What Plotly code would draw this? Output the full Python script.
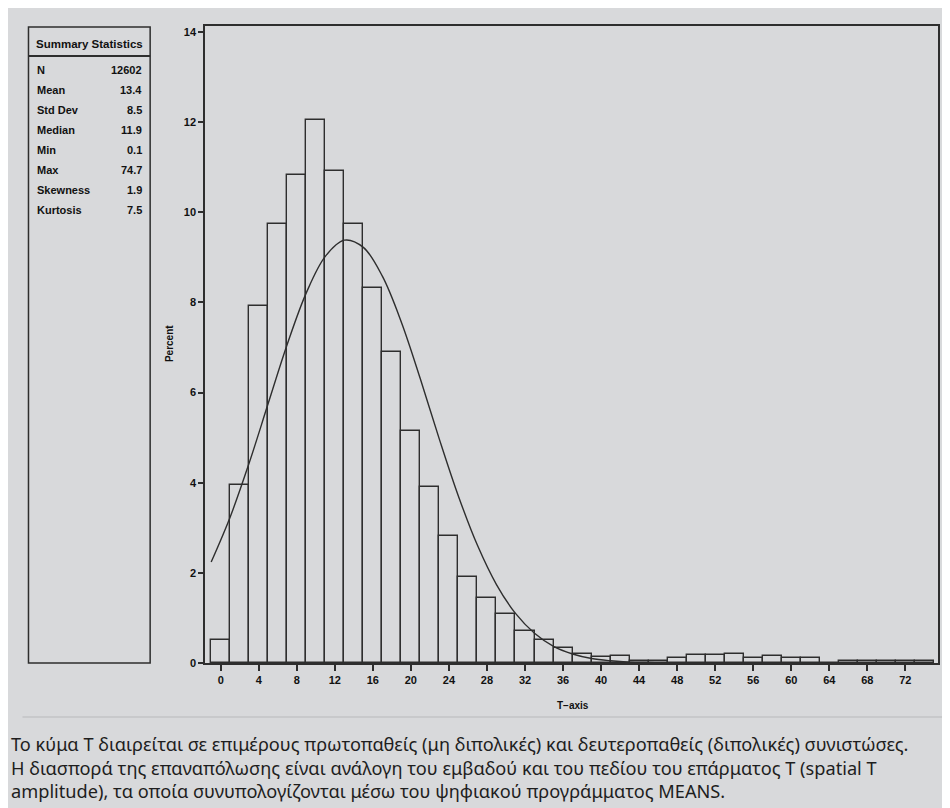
import plotly.graph_objects as go

# ---------------- data ----------------
bin_centers = [0, 2, 4, 6, 8, 10, 12, 14, 16, 18, 20, 22, 24, 26, 28, 30, 32, 34, 36,
               38, 40, 42, 44, 46, 48, 50, 52, 54, 56, 58, 60, 62, 64, 66, 68, 70, 72, 74]
percent = [0.50, 3.95, 7.93, 9.74, 10.83, 12.05, 10.92, 9.74, 8.32, 6.89, 5.15, 3.90, 2.81,
           1.91, 1.45, 1.09, 0.71, 0.52, 0.34, 0.19, 0.13, 0.16, 0.04, 0.04, 0.10, 0.17,
           0.17, 0.21, 0.10, 0.16, 0.10, 0.10, 0.0, 0.04, 0.04, 0.04, 0.04, 0.04]
bin_width = 2

curve_x = [-1, 1, 3, 5, 7, 9, 11, 13, 15, 17, 19, 21, 23, 25, 27, 29, 31, 33, 35, 37,
           39, 41, 43, 45, 47, 51, 55, 60, 65, 70, 75]
curve_y = [2.24, 3.24, 4.44, 5.76, 7.07, 8.21, 9.02, 9.38, 9.22, 8.58, 7.56, 6.30, 4.96,
           3.70, 2.61, 1.74, 1.10, 0.66, 0.37, 0.20, 0.10, 0.05, 0.02, 0.01, 0.0, 0.0,
           0.0, 0.0, 0.0, 0.0, 0.0]

x_ticks = list(range(0, 73, 4))
y_ticks = list(range(0, 15, 2))

stat_labels = ["N", "Mean", "Std Dev", "Median", "Min", "Max", "Skewness", "Kurtosis"]
stat_values = ["12602", "13.4", "8.5", "11.9", "0.1", "74.7", "1.9", "7.5"]

x_title = "T\u2212axis"
y_title = "Percent"
table_title = "Summary Statistics"
caption_lines = [
    "Το κύμα Τ διαιρείται σε επιμέρους πρωτοπαθείς (μη διπολικές) και δευτεροπαθείς (διπολικές) συνιστώσες.",
    "Η διασπορά της επαναπόλωσης είναι ανάλογη του εμβαδού και του πεδίου του επάρματος Τ (spatial T",
    "amplitude), τα οποία συνυπολογίζονται μέσω του ψηφιακού προγράμματος MEANS.",
]

# ---------------- layout geometry (page pixels; figure sits at 8,8) ----------------
OFF = 8
W, H = 942, 800
L, R, T, B = 205 - OFF, 940 - OFF, 26 - OFF, 663 - OFF
PW, PH = R - L, B - T


def xp(px):
    return (px - OFF - L) / PW


def yp(py):
    return (B - (py - OFF)) / PH


BG = "#d8d9db"
INK = "#2e2e2e"
NARROW = "Liberation Sans Narrow, Liberation Sans, Arial"

fig = go.Figure()
fig.add_trace(go.Bar(
    x=bin_centers, y=percent, width=[bin_width] * len(bin_centers),
    marker=dict(color="rgba(0,0,0,0)", line=dict(color=INK, width=1.4)),
    showlegend=False, hoverinfo="x+y",
))
fig.add_trace(go.Scatter(
    x=curve_x, y=curve_y, mode="lines",
    line=dict(color=INK, width=1.4, shape="spline", smoothing=1.0),
    showlegend=False,
))

shapes = [
    # separator line above caption
    dict(type="line", xref="paper", yref="paper", x0=xp(22), x1=xp(960), y0=yp(717), y1=yp(717),
         line=dict(color="#b8b9bb", width=1.2), layer="below"),
    # summary box
    dict(type="rect", xref="paper", yref="paper", x0=xp(28), x1=xp(150), y0=yp(663), y1=yp(27),
         line=dict(color=INK, width=1.5), fillcolor="rgba(0,0,0,0)"),
    dict(type="line", xref="paper", yref="paper", x0=xp(28), x1=xp(150), y0=yp(56), y1=yp(56),
         line=dict(color=INK, width=2.2)),
]

annotations = [
    dict(text=table_title, xref="paper", yref="paper", x=xp(89), y=yp(43.5),
         showarrow=False, xanchor="center", yanchor="middle",
         font=dict(family=NARROW, size=11.5, color="#111", weight="bold")),
    dict(text=x_title, xref="paper", yref="paper", x=xp(574), y=yp(706),
         showarrow=False, xanchor="center", yanchor="middle",
         font=dict(family=NARROW, size=10, color="#111", weight="bold")),
    dict(text=y_title, xref="paper", yref="paper", x=xp(169), y=yp(344),
         showarrow=False, xanchor="center", yanchor="middle", textangle=-90,
         font=dict(family=NARROW, size=10, color="#111", weight="bold")),
]
for i, (lab, val) in enumerate(zip(stat_labels, stat_values)):
    y = yp(70 + 20 * i)
    annotations.append(dict(text=lab, xref="paper", yref="paper", x=xp(35), y=y,
                            showarrow=False, xanchor="left", yanchor="middle",
                            font=dict(family=NARROW, size=11, color="#111", weight="bold")))
    annotations.append(dict(text=val, xref="paper", yref="paper", x=xp(144), y=y,
                            showarrow=False, xanchor="right", yanchor="middle",
                            font=dict(family=NARROW, size=11, color="#111", weight="bold")))

annotations.append(dict(text="<br>".join(caption_lines), xref="paper", yref="paper",
                        x=xp(8), y=yp(767), showarrow=False, xanchor="left", yanchor="middle",
                        align="left",
                        font=dict(family="Noto Sans, Open Sans, sans-serif", size=18.2,
                                  color="#1e1e1e")))

fig.update_layout(
    width=W, height=H,
    margin=dict(l=L, r=W - R, t=T, b=H - B, pad=0),
    paper_bgcolor=BG, plot_bgcolor="rgba(0,0,0,0)",
    shapes=shapes, annotations=annotations,
    bargap=0, barmode="overlay",
    xaxis=dict(range=[-1.65, 75.43], tickmode="array", tickvals=x_ticks,
               ticks="outside", ticklen=6, tickwidth=1.5, tickcolor=INK,
               showline=True, linecolor=INK, linewidth=1.5, mirror=True,
               showgrid=False, zeroline=False,
               tickfont=dict(family=NARROW, size=11, color="#111", weight="bold")),
    yaxis=dict(range=[0, 14.13], tickmode="array", tickvals=y_ticks,
               ticks="outside", ticklen=5, tickwidth=1.5, tickcolor=INK,
               showline=True, linecolor=INK, linewidth=1.5, mirror=True,
               showgrid=False, zeroline=False,
               tickfont=dict(family=NARROW, size=11, color="#111", weight="bold")),
)

fig.write_html("out.html")
